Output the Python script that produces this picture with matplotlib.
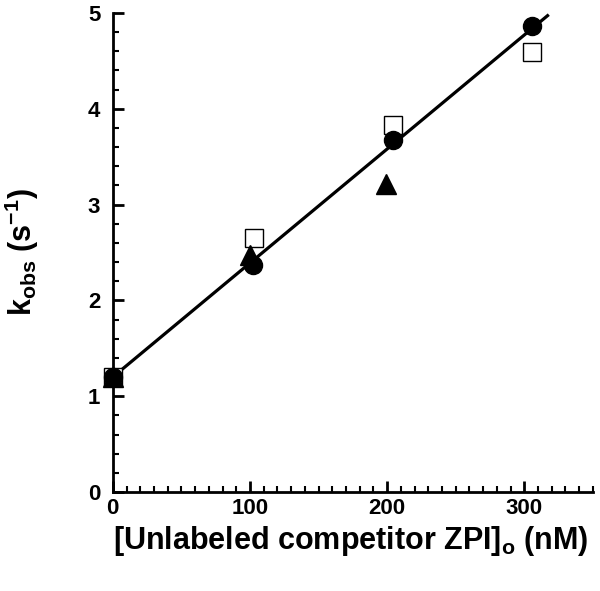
import matplotlib
matplotlib.use("Agg")
import matplotlib.pyplot as plt
import numpy as np
from matplotlib.ticker import MultipleLocator

# data
circle_x = [0, 102, 204, 306]
circle_y = [1.2, 2.37, 3.67, 4.86]
square_x = [0, 103, 204, 306]
square_y = [1.2, 2.65, 3.83, 4.59]
triangle_x = [0, 100, 199]
triangle_y = [1.2, 2.47, 3.22]

fit_intercept = 1.2
fit_slope = 0.0119
fit_x_end = 317

plt.rcParams["font.family"] = ["Liberation Sans", "DejaVu Sans"]
plt.rcParams["font.weight"] = "bold"
plt.rcParams["mathtext.fontset"] = "custom"
plt.rcParams["mathtext.rm"] = "Liberation Sans:bold"
plt.rcParams["mathtext.bf"] = "Liberation Sans:bold"
plt.rcParams["mathtext.it"] = "Liberation Sans:bold"

fig = plt.figure(figsize=(6.0, 5.91), dpi=100)
ax = fig.add_axes([0.188, 0.1675, 0.80, 0.8105])

fx = np.array([0, fit_x_end])
ax.plot(fx, fit_intercept + fit_slope * fx, color="black", linewidth=2.3,
        zorder=2, clip_on=False)

ax.plot(square_x, square_y, linestyle="none", marker="s", markersize=13.5,
        markerfacecolor="white", markeredgecolor="black", markeredgewidth=1.0,
        zorder=3, clip_on=False)
ax.plot(triangle_x, triangle_y, linestyle="none", marker="^", markersize=15,
        color="black", zorder=4, clip_on=False)
ax.plot(circle_x, circle_y, linestyle="none", marker="o", markersize=13,
        color="black", zorder=5, clip_on=False)

ax.set_xlim(0, 350)
ax.set_ylim(0, 5)
ax.spines["top"].set_visible(False)
ax.spines["right"].set_visible(False)
ax.spines["left"].set_linewidth(2)
ax.spines["bottom"].set_linewidth(2)

ax.xaxis.set_major_locator(MultipleLocator(100))
ax.xaxis.set_minor_locator(MultipleLocator(10))
ax.yaxis.set_major_locator(MultipleLocator(1))
ax.yaxis.set_minor_locator(MultipleLocator(0.2))
ax.tick_params(which="major", direction="in", length=8, width=2, labelsize=16, pad=4)
ax.tick_params(which="minor", direction="in", length=4.5, width=1.5)
ax.tick_params(axis="y", which="major", pad=9)
for lab in ax.get_xticklabels() + ax.get_yticklabels():
    lab.set_fontweight("bold")

ax.set_xlabel(r"[Unlabeled competitor ZPI]$_\mathbf{o}$ (nM)", fontsize=22,
              fontweight="bold")
ax.set_ylabel(r"k$_\mathbf{obs}$ (s$^\mathbf{-1}$)", fontsize=22,
              fontweight="bold")
ax.xaxis.set_label_coords(0.496, -0.066)
ax.yaxis.set_label_coords(-0.15, 0.5)

fig.savefig("out.png", dpi=100)
